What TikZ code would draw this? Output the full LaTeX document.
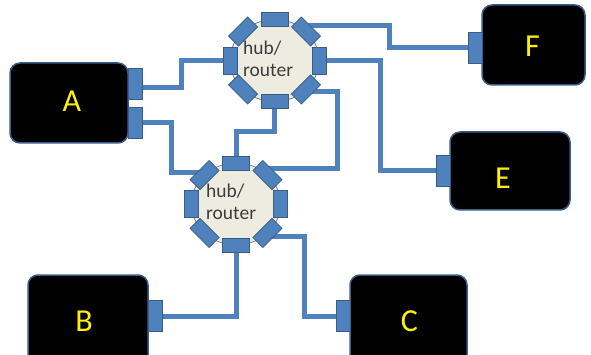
\documentclass[tikz,border=0pt]{standalone}
\usepackage{fontspec}
\setmainfont{Carlito}
\usetikzlibrary{shapes.geometric,calc}
\definecolor{wireblue}{HTML}{4F81BD}
\definecolor{portedge}{HTML}{385D8A}
\definecolor{hubfill}{HTML}{EEECE1}
\definecolor{hubtext}{HTML}{3C3C3C}
\pgfdeclarelayer{wires}
\pgfsetlayers{wires,main}
\begin{document}
\begin{tikzpicture}[x=1pt,y=1pt,
  wire/.style={draw=wireblue, line width=5pt},
  hubport/.style={rectangle, draw=portedge, fill=wireblue, line width=0.8pt,
    inner sep=0pt, minimum width=14pt, minimum height=27pt},
  devport/.style={rectangle, draw=portedge, fill=wireblue, line width=0.8pt,
    inner sep=0pt, minimum width=14pt, minimum height=31pt},
  device/.style={rectangle, rounded corners=10pt, fill=black, draw=portedge,
    line width=1.5pt, inner sep=0pt},
  devlabel/.style={text=yellow, font=\fontsize{32}{36}\selectfont, inner sep=0pt},
  hub/.style={ellipse, draw=gray, fill=hubfill, line width=0.8pt,
    minimum width=89pt, minimum height=82pt, inner sep=0pt},
  hublabel/.style={text=hubtext, align=left, font=\fontsize{19.5}{22}\selectfont,
    inner sep=0pt, anchor=west}]
\clip (0,0) rectangle (591,-355);

% end devices
\node[device, minimum width=118pt, minimum height=80pt,
  label={[devlabel, xshift=3pt, yshift=2pt]center:A}] (A) at (69,-103) {};
\node[device, minimum width=120pt, minimum height=92pt,
  label={[devlabel, xshift=-4pt]center:B}] (B) at (88,-321) {};
\node[device, minimum width=117pt, minimum height=92pt,
  label={[devlabel, xshift=1pt]center:C}] (C) at (408.5,-321) {};
\node[device, minimum width=120pt, minimum height=78pt,
  label={[devlabel, xshift=-7pt, yshift=-7pt]center:E}] (E) at (510,-171) {};
\node[device, minimum width=103pt, minimum height=80pt,
  label={[devlabel, xshift=-1pt, yshift=-1pt]center:F}] (F) at (533.5,-45) {};

% device network ports
\node[devport] (aP1) at (135.5,-83.5) {};
\node[devport] (aP2) at (135.5,-122.5) {};
\node[devport] (bP) at (155,-316) {};
\node[devport] (cP) at (343.5,-316) {};
\node[devport] (eP) at (443.5,-171) {};
\node[devport] (fP) at (475,-47.5) {};

% hubs with eight ports each
\node[hub] (h1) at (274.5,-60.5) {};
\node[hub] (h2) at (236,-204) {};
\foreach \h in {h1,h2}{
  \foreach \i in {0,...,7}{
    \pgfmathsetmacro{\a}{45*\i}
    \node[hubport, rotate=\a] (\h-\i) at ($(\h.center)+(\a:44.5 and 41)$) {};
  }
}
\node[hublabel] (h1t) at (243,-59) {hub/\\router};
\node[hublabel] (h2t) at (206,-202) {hub/\\router};

% cabling
\begin{pgfonlayer}{wires}
\draw[wire] ([yshift=-4pt]aP1.east) -- ++(39,0) |- (h1-4.center);
\draw[wire] (aP2.east) -- ++(29,0) |- ([yshift=3pt]h2-3.center);
\draw[wire] (h1-6.center) -- ++(0,-30) -| (h2-2.center);
\draw[wire] ([yshift=-2pt]h1-7.center) -- ++(32,0) |- ([yshift=7pt]h2-1.center);
\draw[wire] ([yshift=6.5pt]h1-1.center) -- ++(84,0) |- (fP.center);
\draw[wire] (h1-0.center) -- ++(61,0) |- (eP.center);
\draw[wire] (h2-6.center) |- (bP.center);
\draw[wire] ([yshift=-4pt]h2-7.center) -- ++(37,0) |- (cP.center);
\end{pgfonlayer}
\end{tikzpicture}
\end{document}
